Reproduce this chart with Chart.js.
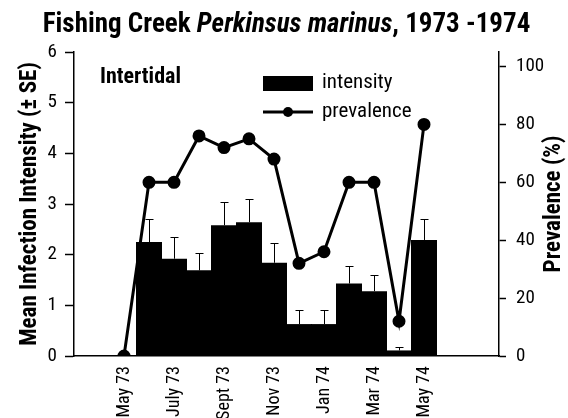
<!DOCTYPE html>
<html>
<head>
<meta charset="utf-8">
<script src="https://cdn.jsdelivr.net/npm/chart.js@4.4.0/dist/chart.umd.min.js"></script>
<style>
  html, body { margin: 0; padding: 0; background: #fff; }
</style>
</head>
<body>
<canvas id="myChart" width="568" height="418"></canvas>
<script>
// monthly samples, May 1973 - May 1974
const months = ['May 73', 'June 73', 'July 73', 'Aug 73', 'Sept 73', 'Oct 73', 'Nov 73',
                'Dec 73', 'Jan 74', 'Feb 74', 'Mar 74', 'Apr 74', 'May 74'];
const shownMonths = ['May 73', 'July 73', 'Sept 73', 'Nov 73', 'Jan 74', 'Mar 74', 'May 74'];
const intensity   = [null, 2.25, 1.92, 1.69, 2.58, 2.64, 1.84, 0.63, 0.63, 1.43, 1.28, 0.11, 2.29];
const intensitySE = [null, 0.45, 0.42, 0.34, 0.45, 0.46, 0.39, 0.27, 0.27, 0.35, 0.31, 0.06, 0.42];
const prevalence  = [0, 60, 60, 76, 72, 75, 68, 32, 36, 60, 60, 12, 80];
const intensityTicks = [0, 1, 2, 3, 4, 5, 6];
const prevalenceTicks = [0, 20, 40, 60, 80, 100];

// empty slots so the axis runs a bit past the sampling period on both sides
const padBefore = 2, padAfter = 3;
const pad = (arr, fill) => [...Array(padBefore).fill(fill), ...arr, ...Array(padAfter).fill(fill)];
const labels = pad(months, '');

const NARROW = "'Liberation Sans Narrow', 'Roboto Condensed', 'Noto Sans Condensed', 'DejaVu Sans Condensed', 'Liberation Sans', sans-serif";

const errorBars = {
  id: 'errorBars',
  afterDatasetDraw(chart, args) {
    if (args.index !== 0) return;
    const {ctx, scales: {x, y}} = chart;
    ctx.save();
    ctx.strokeStyle = '#000';
    ctx.lineWidth = 1;
    intensity.forEach((v, i) => {
      if (v == null) return;
      const px = Math.round(x.getPixelForValue(i + padBefore)) + 0.5;
      const y0 = y.getPixelForValue(v);
      const y1 = Math.round(y.getPixelForValue(v + intensitySE[i])) + 0.5;
      ctx.beginPath();
      ctx.moveTo(px, y0);
      ctx.lineTo(px, y1);
      ctx.moveTo(px - 4, y1);
      ctx.lineTo(px + 4, y1);
      ctx.stroke();
    });
    ctx.restore();
  }
};

const decorations = {
  id: 'decorations',
  afterDraw(chart) {
    const {ctx, chartArea: a} = chart;
    ctx.save();
    ctx.fillStyle = '#000';
    ctx.strokeStyle = '#000';
    ctx.textBaseline = 'alphabetic';

    // title with italic species name
    const parts = [
      ['bold 27px ' + NARROW, 'Fishing Creek '],
      ['italic bold 27px ' + NARROW, 'Perkinsus marinus'],
      ['bold 27px ' + NARROW, ', 1973 -1974']
    ];
    let total = 0;
    parts.forEach(p => { ctx.font = p[0]; total += ctx.measureText(p[1]).width; });
    let tx = (a.left + a.right) / 2 - total / 2;
    parts.forEach(p => {
      ctx.font = p[0];
      ctx.fillText(p[1], tx, 32);
      tx += ctx.measureText(p[1]).width;
    });

    // site label
    ctx.font = 'bold 22px ' + NARROW;
    ctx.fillText('Intertidal', 100, 83);

    // legend
    ctx.fillRect(263, 76, 50, 15);
    ctx.lineWidth = 3;
    ctx.beginPath();
    ctx.moveTo(263, 112);
    ctx.lineTo(313, 112);
    ctx.stroke();
    ctx.beginPath();
    ctx.arc(288, 112, 5, 0, Math.PI * 2);
    ctx.fill();
    ctx.font = '21px ' + NARROW;
    ctx.textBaseline = 'middle';
    ctx.fillText('intensity', 322, 83);
    ctx.fillText('prevalence', 322, 112);

    // right axis title, reading upwards
    ctx.translate(554, (a.top + a.bottom) / 2);
    ctx.rotate(-Math.PI / 2);
    ctx.textAlign = 'center';
    ctx.font = 'bold 23px ' + NARROW;
    ctx.fillText('Prevalence (%)', 0, 0);
    ctx.restore();
  }
};

const ctx = document.getElementById('myChart').getContext('2d');
const myChart = new Chart(ctx, {
  data: {
    labels: labels,
    datasets: [{
      type: 'bar',
      label: 'intensity',
      data: pad(intensity, null),
      backgroundColor: '#000',
      borderWidth: 0,
      barPercentage: 1.04,   // slight overlap so neighbouring bars merge without seams
      categoryPercentage: 1,
      yAxisID: 'y',
      order: 1
    }, {
      type: 'line',
      label: 'prevalence',
      data: pad(prevalence, null),
      borderColor: '#000',
      backgroundColor: '#000',
      borderWidth: 3,
      pointRadius: 5,
      pointBackgroundColor: '#000',
      tension: 0,
      yAxisID: 'y2',
      order: 0
    }]
  },
  options: {
    responsive: false,
    animation: false,
    layout: { padding: { top: 52, left: 0, right: 0, bottom: 0 } },
    plugins: {
      legend: { display: false },
      title: { display: false },
      tooltip: { enabled: false }
    },
    scales: {
      x: {
        type: 'category',
        offset: false,
        grid: { display: false, drawTicks: false },
        border: { display: true, color: '#000', width: 1.5 },
        ticks: {
          autoSkip: false,
          minRotation: 90,
          maxRotation: 90,
          padding: 10,
          color: '#000',
          font: { family: NARROW, size: 18 },
          callback: (val, idx) => shownMonths.includes(labels[idx]) ? labels[idx] : ''
        },
        afterFit: s => { s.height = 62; }
      },
      y: {
        position: 'left',
        min: 0,
        max: intensityTicks[intensityTicks.length - 1],
        afterBuildTicks: s => { s.ticks = intensityTicks.map(v => ({ value: v })); },
        grid: { drawOnChartArea: false, drawTicks: true, tickLength: 9, color: '#000', tickWidth: 1.5 },
        border: { display: true, color: '#000', width: 1.5 },
        ticks: { color: '#000', padding: 8, font: { family: NARROW, size: 19 } },
        title: {
          display: true,
          text: 'Mean Infection Intensity (± SE)',
          color: '#000',
          font: { family: NARROW, size: 23, weight: 'bold' },
          padding: { top: 16, bottom: 0 }
        },
        afterFit: s => { s.width = 74; }
      },
      y2: {
        position: 'right',
        min: 0,
        max: 105,
        afterBuildTicks: s => { s.ticks = prevalenceTicks.map(v => ({ value: v })); },
        grid: { drawOnChartArea: false, drawTicks: true, tickLength: 7, color: '#000', tickWidth: 1.5 },
        border: { display: true, color: '#000', width: 1.5 },
        ticks: { color: '#000', padding: 10, font: { family: NARROW, size: 19 } },
        afterFit: s => { s.width = 69; }
      }
    }
  },
  plugins: [errorBars, decorations]
});
</script>
</body>
</html>
